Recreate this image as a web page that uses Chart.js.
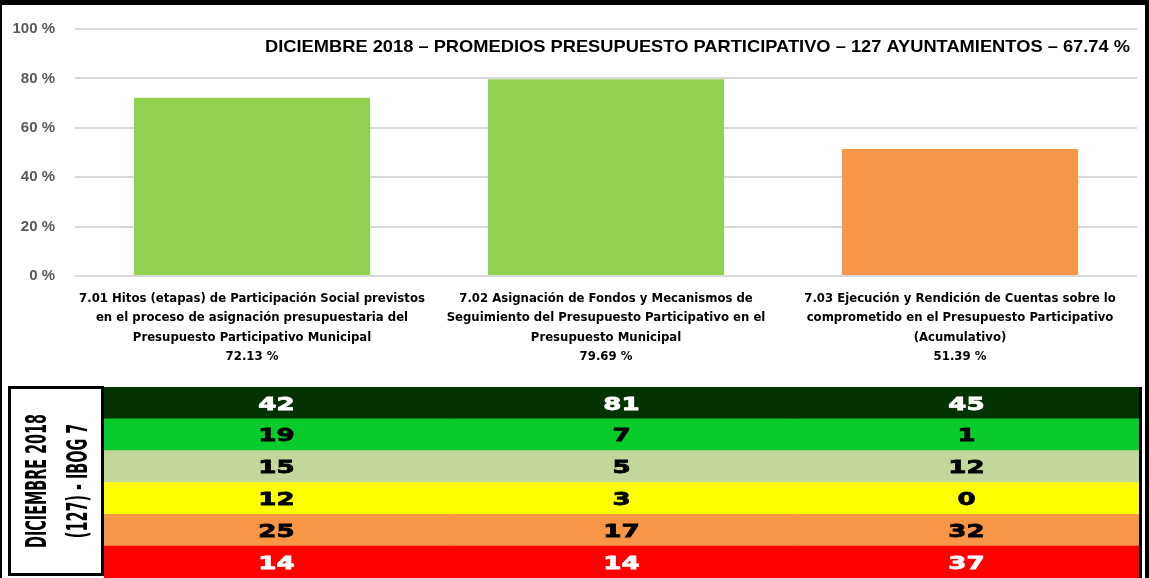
<!DOCTYPE html>
<html lang="es">
<head>
<meta charset="utf-8">
<script src="https://cdn.jsdelivr.net/npm/chart.js@4.4.1/dist/chart.umd.min.js"></script>
<style>
  html, body { margin: 0; padding: 0; background: #fff; }
  #frame {
    position: absolute; left: 0; top: 0; width: 1149px; height: 578px;
    box-sizing: border-box; border-top: 5px solid #000; border-left: 2px solid #000; border-right: 4px solid #000;
  }
  #topWrap   { position: absolute; left: 2px; top: 5px;   width: 1143px; height: 380px; }
  #tableWrap { position: absolute; left: 8px; top: 386px; width: 1134px; height: 192px; }
</style>
</head>
<body>
<div id="frame"></div>
<div id="topWrap"><canvas id="topChart"></canvas></div>
<div id="tableWrap"><canvas id="tableChart"></canvas></div>

<script>
/* ===== データ ===== */
const TITLE = 'DICIEMBRE 2018 – PROMEDIOS PRESUPUESTO PARTICIPATIVO – 127 AYUNTAMIENTOS – 67.74 %';

const categoryLines = [
  ['7.01 Hitos (etapas) de Participación Social previstos',
   'en el proceso de asignación presupuestaria del',
   'Presupuesto Participativo Municipal'],
  ['7.02 Asignación de Fondos y Mecanismos de',
   'Seguimiento del Presupuesto Participativo en el',
   'Presupuesto Municipal'],
  ['7.03 Ejecución y Rendición de Cuentas sobre lo',
   'comprometido en el Presupuesto Participativo',
   '(Acumulativo)']
];
const averages  = [72.13, 79.69, 51.39];
const barColors = ['#92D050', '#92D050', '#F79646'];

// tabla de semáforo (filas: de mejor a peor)
const levelColors = ['#033303', '#09CB2B', '#C4D79B', '#FFFF00', '#F79646', '#FF0000'];
const levelText   = ['#FFFFFF', '#000000', '#000000', '#000000', '#000000', '#FFFFFF'];
const counts701 = [42, 19, 15, 12, 25, 14];
const counts702 = [81, 7, 5, 3, 17, 14];
const counts703 = [45, 1, 12, 0, 32, 37];
const tableCols = [counts701, counts702, counts703];
const sideLabel = ['DICIEMBRE 2018', '(127) - IBOG 7'];

const NARROW = '"Liberation Sans Narrow", "DejaVu Sans Condensed", "Arial Narrow", sans-serif';

/* ===== título dentro del área ===== */
const titlePlugin = {
  id: 'titleText',
  afterDraw(chart) {
    const { ctx, chartArea } = chart;
    ctx.save();
    ctx.font = 'bold 17px "Liberation Sans", sans-serif';
    ctx.textAlign = 'right';
    ctx.textBaseline = 'middle';
    ctx.fillStyle = '#000';
    const w = ctx.measureText(TITLE).width;
    ctx.translate(chartArea.right - 7, 42);
    ctx.scale(865 / w, 1);
    ctx.fillText(TITLE, 0, 0);
    ctx.restore();
  }
};

const labels = categoryLines.map((lines, i) => [...lines, averages[i].toFixed(2) + ' %']);

new Chart(document.getElementById('topChart'), {
  type: 'bar',
  data: {
    labels,
    datasets: [{
      data: averages,
      backgroundColor: barColors,
      barPercentage: 0.667,
      categoryPercentage: 1.0,
      borderWidth: 0
    }]
  },
  options: {
    responsive: true,
    maintainAspectRatio: false,
    animation: false,
    layout: { padding: { left: 0, right: 8, top: 24, bottom: 6 } },
    plugins: { legend: { display: false }, tooltip: { enabled: false } },
    scales: {
      x: {
        grid: { display: false, drawTicks: false },
        border: { display: false },
        ticks: {
          color: '#000',
          padding: 13,
          maxRotation: 0, autoSkip: false,
          font: { family: NARROW, size: 13, weight: 'bold', lineHeight: 1.48 }
        }
      },
      y: {
        min: 0, max: 100,
        // ancho fijo; el padding de ticks no debe empujar el área hacia abajo
        afterFit(scale) { scale.width = 73; scale.paddingTop = 9; scale.paddingBottom = 9; },
        grid: { color: '#D9D9D9', lineWidth: 2, drawTicks: false },
        border: { display: false },
        ticks: {
          stepSize: 20,
          padding: 20,
          color: '#595959',
          font: { family: '"Liberation Sans", sans-serif', size: 15, weight: 'bold' },
          callback: v => v + ' %'
        }
      }
    }
  },
  plugins: [titlePlugin]
});

/* ===== tabla: celdas como barras apiladas ===== */
const tablePlugin = {
  id: 'tableText',
  afterDatasetsDraw(chart) {
    const { ctx, scales: { x, y }, chartArea } = chart;
    ctx.save();
    ctx.font = 'bold 18px "DejaVu Sans", sans-serif';
    ctx.textAlign = 'center';
    ctx.textBaseline = 'middle';
    ctx.lineWidth = 0.8;
    tableCols.forEach((col, c) => {
      col.forEach((v, r) => {
        ctx.save();
        ctx.translate(x.getPixelForValue(c + 0.5), y.getPixelForValue(r) + 2);
        ctx.scale(1.45, 1);
        ctx.fillStyle = levelText[r];
        ctx.strokeStyle = levelText[r];
        ctx.fillText(String(v), 0, 0);
        ctx.strokeText(String(v), 0, 0);
        ctx.restore();
      });
    });

    // borde derecho de la tabla
    ctx.fillStyle = '#000';
    ctx.fillRect(chartArea.right, chartArea.top, 3, chartArea.bottom - chartArea.top);

    // caja lateral con texto vertical
    ctx.lineWidth = 3;
    ctx.strokeStyle = '#000';
    ctx.strokeRect(1.5, 1.5, 93, 187);
    ctx.font = 'bold 29px ' + NARROW;
    ctx.fillStyle = '#000';
    const sx = 134 / ctx.measureText(sideLabel[0]).width;
    [[30, sideLabel[0]], [71, sideLabel[1]]].forEach(([cx, txt]) => {
      ctx.save();
      ctx.translate(cx, 95);
      ctx.rotate(-Math.PI / 2);
      ctx.scale(sx, 1);
      ctx.fillText(txt, 0, 0);
      ctx.restore();
    });
    ctx.restore();
  }
};

new Chart(document.getElementById('tableChart'), {
  type: 'bar',
  data: {
    labels: levelColors.map((_, i) => 'nivel ' + (i + 1)),
    datasets: tableCols.map(() => ({
      data: levelColors.map(() => 1),
      backgroundColor: levelColors,
      barPercentage: 1.0,
      categoryPercentage: 1.0,
      borderWidth: 0
    }))
  },
  options: {
    indexAxis: 'y',
    responsive: true,
    maintainAspectRatio: false,
    animation: false,
    layout: { padding: { left: 96, right: 3, top: 1, bottom: 0 } },
    plugins: { legend: { display: false }, tooltip: { enabled: false } },
    scales: {
      x: { stacked: true, min: 0, max: 3, display: false },
      y: { stacked: true, display: false }
    }
  },
  plugins: [tablePlugin]
});
</script>
</body>
</html>
